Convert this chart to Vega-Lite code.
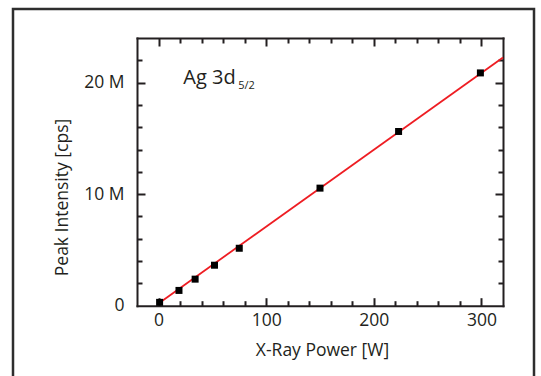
{
  "$schema": "https://vega.github.io/schema/vega-lite/v6.json",
  "width": 521,
  "height": 372,
  "autosize": "none",
  "padding": {"left": 13, "top": 9, "right": 7, "bottom": -5},
  "background": "white",
  "config": {
    "view": {"stroke": "#2e2e2e", "strokeWidth": 2.5},
    "font": "Open Sans",
    "axis": {
      "grid": false,
      "domainColor": "#231f20",
      "domainWidth": 2,
      "domainCap": "square",
      "tickColor": "#231f20",
      "tickWidth": 2,
      "labelColor": "#231f20",
      "labelFont": "Open Sans",
      "labelFontSize": 17.5,
      "titleColor": "#231f20",
      "titleFont": "Open Sans",
      "titleFontSize": 17.5,
      "titleFontWeight": "normal"
    }
  },
  "datasets": {
    "measured": [
      {"power": 1, "intensity": 300000},
      {"power": 19, "intensity": 1370000},
      {"power": 34, "intensity": 2380000},
      {"power": 52, "intensity": 3630000},
      {"power": 75, "intensity": 5150000},
      {"power": 150, "intensity": 10540000},
      {"power": 223, "intensity": 15620000},
      {"power": 299, "intensity": 20870000}
    ],
    "fit": [
      {"power": 0, "fit": 200000},
      {"power": 320, "fit": 22250000}
    ]
  },
  "layer": [
    {
      "data": {"name": "fit"},
      "mark": {"type": "line", "color": "#ee1d23", "strokeWidth": 1.8},
      "encoding": {
        "x": {
          "field": "power", "type": "quantitative",
          "scale": {"domain": [-20, 320], "range": [124, 490], "nice": false, "zero": false},
          "axis": {
            "orient": "bottom", "offset": -75.3, "values": [0, 100, 200, 300],
            "ticks": false, "labelPadding": 6, "labelFlush": false,
            "title": "X-Ray Power [W]", "titleX": 309, "titleY": 50, "titleBaseline": "alphabetic"
          }
        },
        "y": {
          "field": "fit", "type": "quantitative",
          "scale": {"domain": [0, 24000000], "range": [296.7, 29], "nice": false, "zero": false},
          "axis": {
            "orient": "left", "offset": -124, "values": [0, 10000000, 20000000],
            "ticks": false, "labelPadding": 13, "labelFlush": false,
            "labelExpr": "datum.value == 0 ? '0' : (datum.value / 1000000) + ' M'",
            "title": "Peak Intensity [cps]", "titleX": -70, "titleY": 188, "titleBaseline": "alphabetic", "titleAngle": -90
          }
        }
      }
    },
    {
      "data": {"name": "measured"},
      "mark": {"type": "square", "color": "#000000", "size": 49, "opacity": 1},
      "encoding": {
        "x": {
          "field": "power", "type": "quantitative",
          "axis": {
            "orient": "bottom", "offset": -75.3,
            "values": [0, 20, 40, 60, 80, 100, 120, 140, 160, 180, 200, 220, 240, 260, 280, 300],
            "labels": false, "domain": false, "title": null,
            "tickSize": {"condition": {"test": "datum.value % 100 === 0", "value": -8}, "value": -5}
          }
        },
        "y": {
          "field": "intensity", "type": "quantitative",
          "axis": {
            "orient": "left", "offset": -124,
            "values": [2000000, 4000000, 6000000, 8000000, 10000000, 12000000, 14000000, 16000000, 18000000, 20000000, 22000000],
            "labels": false, "domain": false, "title": null,
            "tickSize": {"condition": {"test": "datum.value % 10000000 === 0", "value": -8}, "value": -5}
          }
        }
      }
    },
    {
      "data": {"values": [{"label": "Ag 3d"}]},
      "mark": {"type": "text", "align": "left", "baseline": "alphabetic", "fontSize": 20, "color": "#231f20", "font": "Open Sans"},
      "encoding": {
        "text": {"field": "label"},
        "x": {
          "datum": 23, "type": "quantitative",
          "axis": {
            "orient": "top", "offset": -29,
            "values": [0, 20, 40, 60, 80, 100, 120, 140, 160, 180, 200, 220, 240, 260, 280, 300],
            "labels": false, "domain": true, "title": null,
            "tickSize": {"condition": {"test": "datum.value % 100 === 0", "value": -8}, "value": -5}
          }
        },
        "y": {
          "datum": 19900000, "type": "quantitative",
          "axis": {
            "orient": "right", "offset": -31,
            "values": [2000000, 4000000, 6000000, 8000000, 10000000, 12000000, 14000000, 16000000, 18000000, 20000000, 22000000],
            "labels": false, "domain": true, "title": null,
            "tickSize": {"condition": {"test": "datum.value % 10000000 === 0", "value": -8}, "value": -5}
          }
        }
      }
    },
    {
      "data": {"values": [{"label": "5/2"}]},
      "mark": {"type": "text", "align": "left", "baseline": "alphabetic", "fontSize": 11, "color": "#231f20", "font": "Open Sans"},
      "encoding": {
        "text": {"field": "label"},
        "x": {"datum": 74, "type": "quantitative", "axis": null},
        "y": {"datum": 19400000, "type": "quantitative", "axis": null}
      }
    }
  ],
  "resolve": {"axis": {"x": "independent", "y": "independent"}}
}
